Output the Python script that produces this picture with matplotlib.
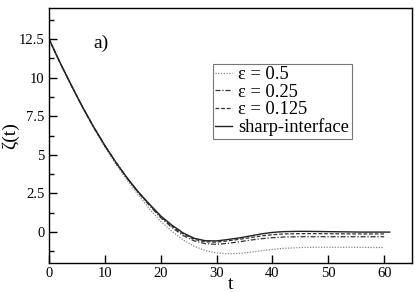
import matplotlib
matplotlib.use("Agg")
import matplotlib.pyplot as plt
from matplotlib.ticker import MultipleLocator

plt.rcParams['font.family'] = ['Liberation Serif', 'DejaVu Serif']
plt.rcParams['mathtext.fontset'] = 'stix'

t_main = [0, 2, 4, 6, 8, 10, 12, 14, 16, 18, 20, 22, 24, 26, 28, 30, 32, 34, 36, 38, 40, 42, 45, 48, 52, 56, 60]
z_sharp = [12.5, 10.95, 9.5, 8.1, 6.8, 5.6, 4.5, 3.5, 2.6, 1.8, 1.05, 0.45, -0.05, -0.4, -0.56, -0.57, -0.48, -0.38,
           -0.25, -0.12, -0.02, 0.03, 0.05, 0.04, 0.02, 0.0, 0.0]
z_e0125 = [12.5, 10.95, 9.5, 8.1, 6.8, 5.6, 4.5, 3.5, 2.58, 1.77, 1.0, 0.38, -0.12, -0.47, -0.63, -0.65, -0.57, -0.47,
           -0.36, -0.25, -0.17, -0.12, -0.1, -0.1, -0.11, -0.12, -0.12]
z_e025 = [12.5, 10.95, 9.5, 8.1, 6.8, 5.6, 4.5, 3.48, 2.55, 1.72, 0.93, 0.3, -0.22, -0.57, -0.75, -0.79, -0.73, -0.63,
          -0.52, -0.43, -0.36, -0.32, -0.3, -0.3, -0.3, -0.3, -0.3]
z_e05 = [12.5, 10.93, 9.46, 8.05, 6.74, 5.5, 4.38, 3.35, 2.4, 1.5, 0.7, 0.05, -0.5, -0.92, -1.2, -1.35, -1.4, -1.38,
         -1.3, -1.2, -1.12, -1.05, -1.0, -0.98, -0.98, -0.99, -1.0]
t_sharp_end = 61

labels = ['ε = 0.5', 'ε = 0.25', 'ε = 0.125', 'sharp-interface']

fig = plt.figure(figsize=(4.15, 2.92), dpi=100)
ax = fig.add_axes([0.118, 0.0993, 0.875, 0.8733])

ax.plot(t_main, z_e05, linestyle=(0, (1, 1.2)), color='#888888', lw=0.9, label=labels[0])
ax.plot(t_main, z_e025, linestyle=(0, (4, 1.5, 1, 1.5)), color='#333333', lw=0.9, label=labels[1])
ax.plot(t_main, z_e0125, linestyle=(0, (3, 1.5)), color='#333333', lw=0.9, label=labels[2])
ax.plot(t_main + [t_sharp_end], z_sharp + [z_sharp[-1]], linestyle='-', color='#222222', lw=1.0, label=labels[3])

ax.set_xlim(0, 65)
ax.set_ylim(-2, 14.5)
ax.xaxis.set_major_locator(MultipleLocator(10))
ax.yaxis.set_minor_locator(MultipleLocator(1.25))
ax.set_yticks([0, 2.5, 5, 7.5, 10, 12.5])
ax.set_yticklabels(['0', '2.5', '5', '7.5', '10', '12.5'])
ax.tick_params(direction='in', which='major', length=6, width=1, labelsize=10.5, pad=3)
ax.tick_params(direction='in', which='minor', length=3.5, width=1)
ax.tick_params(axis='x', which='minor', bottom=False)
for s in ax.spines.values():
    s.set_linewidth(1.0)

ax.set_xlabel('t', fontsize=14, labelpad=-3)
ax.set_ylabel('ζ(t)', fontsize=14, labelpad=0)
ax.text(8.0, 12.2, 'a)', fontsize=14, va='center', ha='left')

leg = ax.legend(loc='upper left', bbox_to_anchor=(0.452, 0.78), fontsize=13.3, frameon=True, fancybox=False,
                edgecolor='#555555', handlelength=0.9, handletextpad=0.35, borderpad=0.12,
                labelspacing=0.02, borderaxespad=0)
leg.get_frame().set_linewidth(0.8)

fig.savefig('out.png', dpi=100)
